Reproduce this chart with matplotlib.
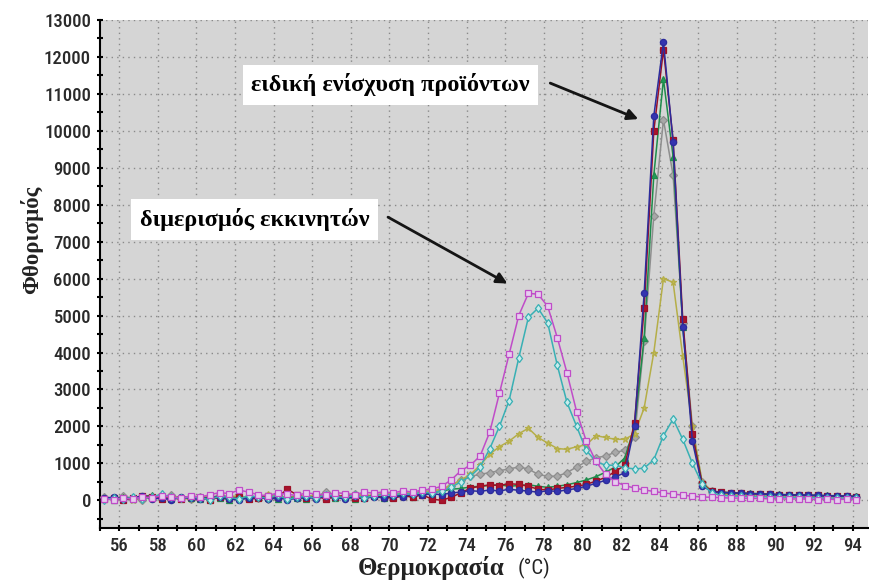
import numpy as np
import matplotlib
matplotlib.use("Agg")
from matplotlib import pyplot as plt
from matplotlib import font_manager
from matplotlib.ticker import MultipleLocator

# temperature grid of the melt curve (one reading every 0.5 °C)
temps = np.arange(55.2, 94.3, 0.5)

# fluorescence readings per well, rows of 10 readings
pink_sq = [40, 10, 60, 30, 90, 70, 120, 90, 60, 110,
           90, 150, 210, 180, 280, 220, 150, 120, 200, 160,
           130, 200, 170, 140, 210, 180, 150, 220, 190, 230,
           200, 260, 220, 280, 300, 380, 550, 800, 950, 1200,
           1850, 2900, 3950, 5000, 5600, 5580, 5250, 4400, 3450, 2400,
           1600, 1050, 700, 500, 400, 330, 280, 240, 200, 170,
           140, 110, 90, 80, 70, 60, 60, 50, 50, 40,
           40, 30, 40, 30, 20, 30, 20, 30, 20]
cyan_dia = [20, 60, 30, 80, 40, 100, 160, 80, 50, 90,
            60, 20, 110, 80, 40, 120, 90, 60, 140, 30,
            80, 110, 60, 150, 100, 80, 130, 70, 120, 160,
            140, 190, 160, 220, 200, 250, 350, 500, 650, 900,
            1400, 2000, 2700, 3850, 4950, 5200, 4800, 3650, 2650, 2000,
            1350, 1050, 950, 950, 880, 850, 870, 1100, 1750, 2200,
            1650, 1000, 450, 200, 130, 120, 110, 100, 100, 90,
            90, 80, 80, 70, 70, 60, 60, 60, 50]
olive_star = [60, 30, 90, 20, 70, 40, 80, 110, 50, 30,
              70, 120, 60, 90, 130, 50, 80, 160, 100, 70,
              120, 90, 150, 110, 80, 140, 170, 120, 150, 180,
              160, 210, 190, 230, 250, 300, 400, 550, 700, 950,
              1250, 1450, 1600, 1800, 1950, 1700, 1550, 1400, 1380, 1450,
              1500, 1750, 1700, 1650, 1650, 1800, 2500, 4000, 6000, 5900,
              3900, 2000, 500, 250, 180, 150, 130, 120, 110, 100,
              100, 90, 90, 80, 80, 70, 70, 60, 60]
gray_dia = [80, 40, 110, 60, 20, 90, 50, 130, 70, 40,
            100, 60, 150, 90, 50, 110, 70, 40, 130, 80,
            60, 120, 90, 230, 140, 100, 170, 130, 110, 190,
            150, 200, 180, 240, 250, 300, 400, 550, 650, 700,
            750, 800, 850, 900, 850, 700, 650, 650, 750, 900,
            1050, 1150, 1200, 1300, 1350, 1700, 4300, 7700, 10300, 8800,
            4800, 2000, 500, 250, 200, 180, 160, 150, 140, 130,
            120, 120, 110, 100, 100, 90, 90, 80, 80]
green_tri = [60, 20, 80, 40, 90, 150, 60, 30, 100, 70,
             40, 90, 60, 20, 80, 50, 110, 70, 30, 90,
             70, 40, 120, 90, 60, 100, 40, 80, 130, 60,
             90, 150, 80, 170, 200, 250, 300, 320, 360, 380,
             400, 420, 380, 400, 420, 380, 350, 380, 420, 480,
             550, 640, 760, 900, 1150, 2000, 4400, 8800, 11400, 9300,
             4700, 1800, 450, 240, 220, 210, 200, 190, 180, 170,
             160, 150, 150, 140, 130, 130, 120, 120, 110]
red_sq = [30, 70, 10, 50, 120, 90, 40, 70, 30, 100,
          60, 20, 80, 50, 90, 30, 60, 110, 80, 300,
          150, 60, 100, 40, 90, 130, 70, 50, 110, 80,
          60, 120, 90, 150, 30, 0, 80, 200, 330, 380,
          420, 400, 450, 430, 380, 300, 280, 320, 350, 380,
          430, 520, 620, 780, 950, 2100, 5200, 10000, 12200, 9750,
          4900, 1800, 450, 240, 220, 200, 190, 180, 170, 160,
          150, 140, 140, 130, 130, 120, 110, 110, 100]
blue_circ = [50, 90, 30, 70, 110, 40, 60, 20, 80, 50,
             30, 70, 100, 40, 10, 60, 90, 30, 70, 20,
             50, 90, 40, 120, 80, 30, 110, 60, 90, 70,
             120, 100, 160, 140, 180, 150, 200, 220, 260, 240,
             280, 250, 300, 270, 250, 220, 260, 240, 280, 320,
             380, 460, 540, 630, 750, 2000, 5600, 10400, 12400, 9700,
             4700, 1600, 400, 230, 210, 200, 190, 180, 170, 160,
             150, 150, 140, 140, 130, 120, 120, 110, 100]

xticks = list(range(56, 95, 2))
yticks = list(range(0, 13001, 1000))

# pick a narrow sans for the tick labels if one is installed
installed = {f.name for f in font_manager.fontManager.ttflist}
narrow = [n for n in ["Liberation Sans Narrow", "Roboto Condensed",
                      "Open Sans Condensed", "DejaVu Sans Condensed"] if n in installed]
tick_font = narrow[:1] + ["Roboto", "DejaVu Sans"]
tick_size = 13.5 if narrow else 12.5

fig = plt.figure(figsize=(8.7, 5.87), dpi=100)
ax = fig.add_axes([100 / 870, 1 - 528 / 587, 768 / 870, 508 / 587])
ax.set_facecolor("#d5d5d5")

# (data, line colour, marker, face colour)
series = [
    (gray_dia, "#8e8e8e", "D", "#a8a8a8"),
    (olive_star, "#b5ae48", "*", "#c2bb55"),
    (green_tri, "#1f8c4c", "^", "#22995a"),
    (red_sq, "#9c1026", "s", "#a8142c"),
    (blue_circ, "#2c2c9c", "o", "#3434b0"),
    (cyan_dia, "#38b0b4", "d", "#c8ecec"),
    (pink_sq, "#c04cc8", "s", "#e6cdee"),
]
for vals, col, mk, fc in series:
    ax.plot(temps, vals, color=col, lw=1.1, marker=mk, ms=4.5,
            mfc=fc, mec=col, mew=0.9, zorder=3)

ax.set_xlim(55, 94.8)
ax.set_ylim(-750, 13000)
ax.set_xticks(xticks)
ax.set_yticks(yticks)
ax.xaxis.set_minor_locator(MultipleLocator(1))
ax.yaxis.set_minor_locator(MultipleLocator(500))
ax.grid(True, which="major", color="#8a8a8a", lw=1, linestyle=(0, (1, 3)))
ax.set_axisbelow(True)
for s in ["top", "right"]:
    ax.spines[s].set_visible(False)
for s in ["left", "bottom"]:
    ax.spines[s].set_linewidth(1.5)
ax.tick_params(which="both", direction="inout", width=1.5, length=5, pad=4)
ax.tick_params(which="minor", length=4)

for lab in ax.get_xticklabels() + ax.get_yticklabels():
    lab.set_family(tick_font)
    lab.set_fontsize(tick_size)
    lab.set_color("#2a2a2a")
    lab.set_weight("medium")

ax.annotate("", xy=(83.03, 10290), xytext=(78.2, 11320),
            arrowprops=dict(arrowstyle="-|>", lw=2, color="#151515", mutation_scale=16))
ax.annotate("", xy=(76.24, 5830), xytext=(69.8, 7700),
            arrowprops=dict(arrowstyle="-|>", lw=2, color="#151515", mutation_scale=16))

ax.text(70.05, 11250, "ειδική ενίσχυση προϊόντων", family="Liberation Serif",
        weight="bold", fontsize=17.5, ha="center", va="center", zorder=5,
        bbox=dict(boxstyle="square,pad=0.35", fc="white", ec="none"))
ax.text(63.0, 7600, "διμερισμός εκκινητών", family="Liberation Serif",
        weight="bold", fontsize=17.5, ha="center", va="center", zorder=5,
        bbox=dict(boxstyle="square,pad=0.35", fc="white", ec="none"))

fig.text(505 / 870, 1 - 568 / 587, "Θερμοκρασία", family="Liberation Serif",
         weight="bold", fontsize=18, ha="right", va="center", color="#222222")
fig.text(518 / 870, 1 - 568 / 587, "(°C)", family=tick_font,
         fontsize=15, ha="left", va="center", color="#222222")
fig.text(32 / 870, 1 - 240 / 587, "Φθορισμός", family="Liberation Serif",
         weight="bold", fontsize=16.5, rotation=90, ha="center", va="center",
         color="#222222")

fig.savefig("out.png", dpi=100)
